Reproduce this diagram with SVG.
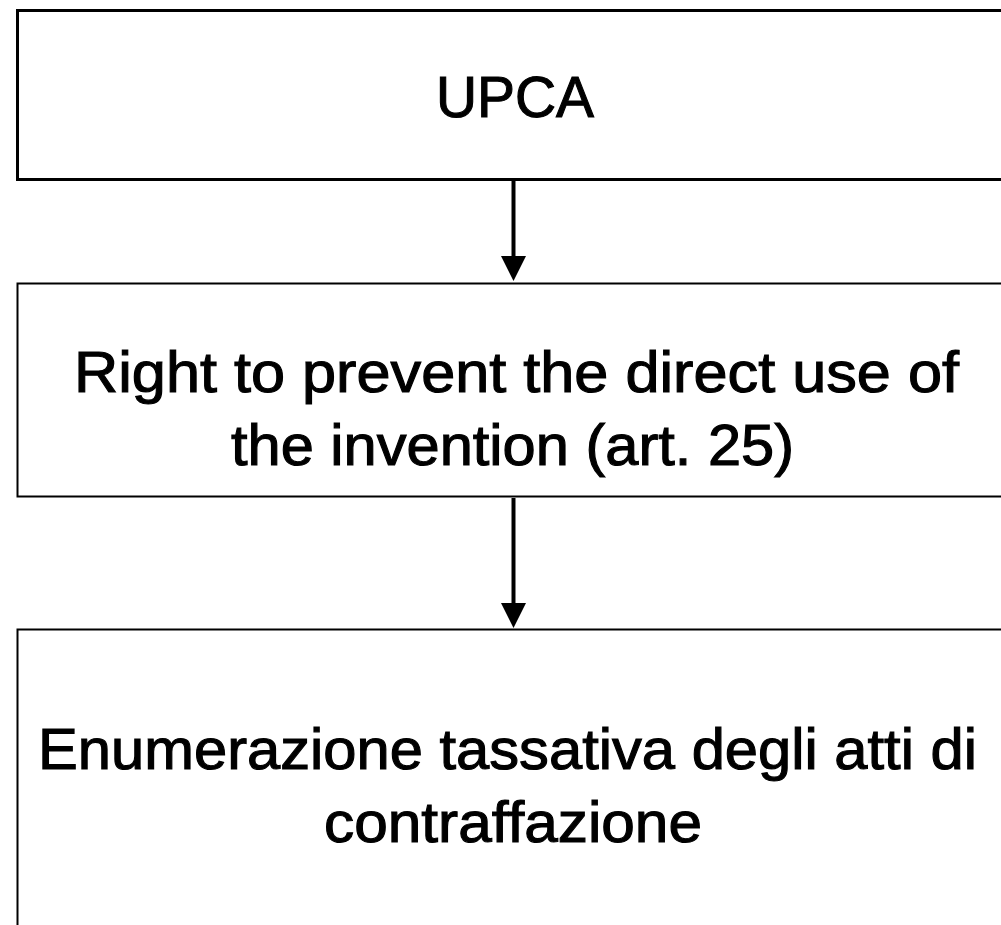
<svg xmlns="http://www.w3.org/2000/svg" width="1001" height="925" viewBox="0 0 1001 925">
<style>
.box{fill:#fff;stroke:#000;}
.t{font-family:"Liberation Sans",Arial,sans-serif;font-size:57px;fill:#000;text-anchor:middle;stroke:#000;stroke-width:1.1px;}
.c{stroke:#000;stroke-width:4;fill:none;}
</style>
<rect width="1001" height="925" fill="#fff"/>
<g id="node-upca">
<rect class="box" x="17.5" y="10.5" width="995" height="169" stroke-width="3"/>
<text class="t" x="515" y="117" textLength="158" lengthAdjust="spacingAndGlyphs">UPCA</text>
</g>
<g id="node-right">
<rect class="box" x="17.5" y="283.5" width="995" height="213" stroke-width="2"/>
<text class="t" x="516.5" y="392" textLength="885" lengthAdjust="spacingAndGlyphs">Right to prevent the direct use of</text>
<text class="t" x="512.5" y="465" textLength="563" lengthAdjust="spacingAndGlyphs">the invention (art. 25)</text>
</g>
<g id="node-enum">
<rect class="box" x="17.5" y="629.5" width="995" height="330" stroke-width="2"/>
<text class="t" x="507.5" y="769" textLength="939" lengthAdjust="spacingAndGlyphs">Enumerazione tassativa degli atti di</text>
<text class="t" x="513" y="842" textLength="378" lengthAdjust="spacingAndGlyphs">contraffazione</text>
</g>
<g id="connectors">
<line class="c" x1="513.5" y1="181" x2="513.5" y2="258"/>
<polygon points="501,256 526,256 513.5,281" fill="#000"/>
<line class="c" x1="513.5" y1="498" x2="513.5" y2="605"/>
<polygon points="501,603 526,603 513.5,628" fill="#000"/>
</g>
</svg>
